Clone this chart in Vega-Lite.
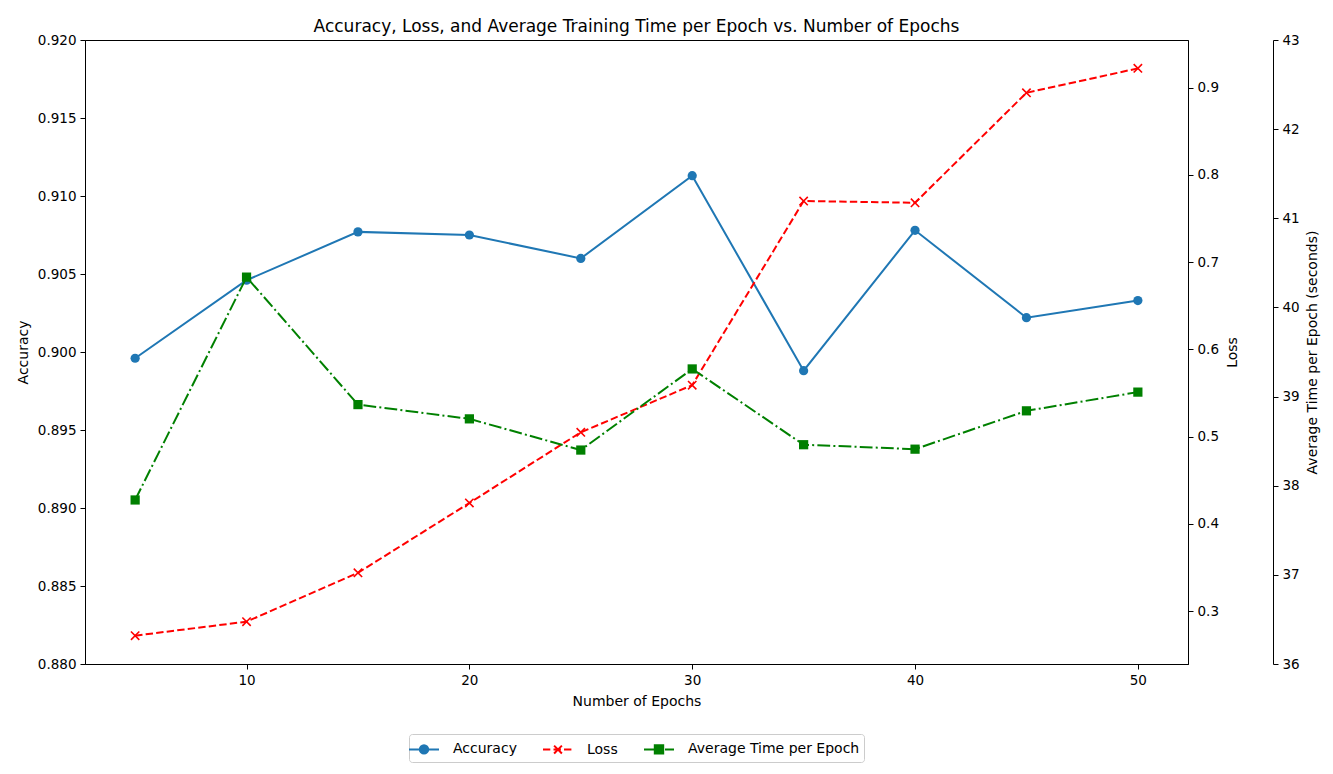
{
  "$schema": "https://vega.github.io/schema/vega-lite/v6.json",
  "width": 1103,
  "height": 624,
  "autosize": {"type": "none"},
  "padding": {"left": 85, "top": 40, "right": 145, "bottom": 110},
  "background": "white",
  "title": {"text": "Accuracy, Loss, and Average Training Time per Epoch vs. Number of Epochs", "font": "DejaVu Sans", "fontSize": 17, "fontWeight": "normal", "color": "black", "anchor": "middle", "offset": -3},
  "data": {"values": [
    {"epoch": 5, "accuracy": 0.8996, "loss": 0.272, "time": 37.84},
    {"epoch": 10, "accuracy": 0.9046, "loss": 0.288, "time": 40.34},
    {"epoch": 15, "accuracy": 0.9077, "loss": 0.344, "time": 38.91},
    {"epoch": 20, "accuracy": 0.9075, "loss": 0.424, "time": 38.75},
    {"epoch": 25, "accuracy": 0.9060, "loss": 0.505, "time": 38.40},
    {"epoch": 30, "accuracy": 0.9113, "loss": 0.559, "time": 39.31},
    {"epoch": 35, "accuracy": 0.8988, "loss": 0.770, "time": 38.46},
    {"epoch": 40, "accuracy": 0.9078, "loss": 0.768, "time": 38.41},
    {"epoch": 45, "accuracy": 0.9022, "loss": 0.894, "time": 38.84},
    {"epoch": 50, "accuracy": 0.9033, "loss": 0.922, "time": 39.05}
  ]},
  "encoding": {
    "x": {"field": "epoch", "type": "quantitative", "scale": {"domain": [2.75, 52.25], "nice": false, "zero": false}, "axis": {"values": [10, 20, 30, 40, 50], "title": "Number of Epochs", "titlePadding": 8}}
  },
  "layer": [
    {
      "encoding": {
        "y": {"field": "accuracy", "type": "quantitative", "scale": {"domain": [0.88, 0.92], "nice": false, "zero": false}, "axis": {"orient": "left", "values": [0.88, 0.885, 0.89, 0.895, 0.9, 0.905, 0.91, 0.915, 0.92], "format": ".3f", "title": "Accuracy", "titlePadding": 7}},
        "color": {"datum": "Accuracy", "type": "nominal", "scale": {"domain": ["Accuracy", "Loss", "Average Time per Epoch"], "range": ["#1f77b4", "#ff0000", "#008000"]},
          "legend": {"orient": "none", "legendX": 324, "legendY": 694, "direction": "horizontal", "columns": 3, "title": null, "symbolSize": 400, "symbolStrokeWidth": 2, "labelFont": "DejaVu Sans", "labelFontSize": 14, "labelColor": "black", "labelOffset": 18, "labelLimit": 400, "columnPadding": 22, "padding": 4, "strokeColor": "#cccccc", "fillColor": "white", "cornerRadius": 3,
            "encode": {"symbols": {"update": {
              "shape": {"signal": "datum.value === 'Accuracy' ? 'M-1.5,0L1.5,0M-0.42,0A0.42,0.42 0 1,0 0.42,0A0.42,0.42 0 1,0 -0.42,0Z' : datum.value === 'Loss' ? 'M-1.5,0L-0.77,0M-0.45,0L0.29,0M0.6,0L1.34,0M-0.39,-0.39L0.39,0.39M0.39,-0.39L-0.39,0.39' : 'M-1.5,0L-0.22,0M0.09,0L0.29,0M0.6,0L1.5,0M-0.42,-0.42H0.42V0.42H-0.42Z'"},
              "fill": {"signal": "datum.value === 'Accuracy' ? '#1f77b4' : datum.value === 'Loss' ? 'transparent' : '#008000'"},
              "stroke": {"signal": "datum.value === 'Accuracy' ? '#1f77b4' : datum.value === 'Loss' ? '#ff0000' : '#008000'"},
              "strokeWidth": {"value": 2},
              "opacity": {"value": 1},
              "fillOpacity": {"value": 1},
              "strokeOpacity": {"value": 1}
            }}}}}
      },
      "layer": [
        {"mark": {"type": "line", "strokeWidth": 2}},
        {"mark": {"type": "point", "shape": "circle", "filled": true, "size": 85, "opacity": 1}}
      ]
    },
    {
      "encoding": {
        "y": {"field": "loss", "type": "quantitative", "scale": {"domain": [0.2395, 0.9545], "nice": false, "zero": false}, "axis": {"orient": "right", "values": [0.3, 0.4, 0.5, 0.6, 0.7, 0.8, 0.9], "format": ".1f", "title": "Loss", "titleAngle": 270, "titleBaseline": "top", "titlePadding": 7}},
        "color": {"datum": "Loss", "type": "nominal"}
      },
      "layer": [
        {"mark": {"type": "line", "strokeWidth": 2, "strokeDash": [7.4, 3.2]}},
        {"mark": {"type": "point", "shape": "M-1,-1L1,1M1,-1L-1,1", "filled": false, "size": 70, "strokeWidth": 1.6, "opacity": 1}}
      ]
    },
    {
      "encoding": {
        "y": {"field": "time", "type": "quantitative", "scale": {"domain": [36, 43], "nice": false, "zero": false}, "axis": {"orient": "right", "offset": 85, "values": [36, 37, 38, 39, 40, 41, 42, 43], "title": "Average Time per Epoch (seconds)", "titleAngle": 270, "titleBaseline": "top", "titlePadding": 6}},
        "color": {"datum": "Average Time per Epoch", "type": "nominal"}
      },
      "layer": [
        {"mark": {"type": "line", "strokeWidth": 2, "strokeDash": [12.8, 3.2, 2, 3.2]}},
        {"mark": {"type": "point", "shape": "square", "filled": true, "size": 85, "opacity": 1}}
      ]
    }
  ],
  "resolve": {"scale": {"y": "independent"}},
  "config": {
    "view": {"stroke": "black", "strokeWidth": 1},
    "axis": {"labelFont": "DejaVu Sans", "titleFont": "DejaVu Sans", "labelFontSize": 13.5, "titleFontSize": 14, "titleFontWeight": "normal", "labelColor": "black", "titleColor": "black", "domainColor": "black", "domainWidth": 1, "tickColor": "black", "tickSize": 5, "tickWidth": 1, "labelPadding": 4, "grid": false}
  }
}
